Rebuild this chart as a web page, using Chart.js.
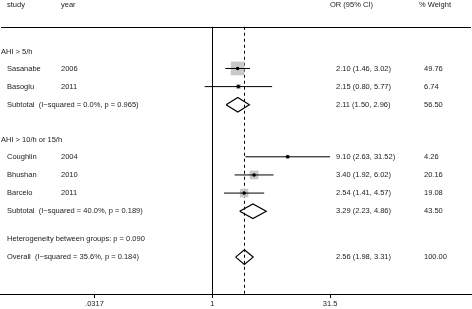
<!DOCTYPE html>
<html>
<head>
<meta charset="utf-8">
<script src="https://cdn.jsdelivr.net/npm/chart.js@4"></script>
<style>
  html, body { margin: 0; padding: 0; background: #fff; }
  #wrap { width: 472px; height: 309px; position: relative; }
</style>
</head>
<body>
<div id="wrap"><canvas id="forest"></canvas></div>
<script>
// Study rows (row positions, 1 row ~ one line of text)
const studies = ["Sasanabe", "Basoglu", "Coughlin", "Bhushan", "Barcelo"];
const years = ["2006", "2011", "2004", "2010", "2011"];
const studyRows = [1, 2, 5.87, 6.87, 7.87];
const orEst = [2.10, 2.15, 9.10, 3.40, 2.54];
const orLow = [1.46, 0.80, 2.63, 1.92, 1.41];
const orHigh = [3.02, 5.77, 31.52, 6.02, 4.57];
const weights = [49.76, 6.74, 4.26, 20.16, 19.08];

// Pooled rows (subtotals + overall) drawn as diamonds
const pooledLabels = [
    "Subtotal  (I\u2212squared = 0.0%, p = 0.965)",
    "Subtotal  (I\u2212squared = 40.0%, p = 0.189)",
    "Overall  (I\u2212squared = 35.6%, p = 0.184)",
];
const pooledRows = [3, 8.87, 11.4];
const pooledEst = [2.11, 3.29, 2.56];
const pooledLow = [1.50, 2.23, 1.98];
const pooledHigh = [2.96, 4.86, 3.31];
const pooledWeights = ["56.50", "43.50", "100.00"];

// Group headings and notes
const groupLabels = ["AHI > 5/h", "AHI > 10/h or 15/h", "Heterogeneity between groups: p = 0.090"];
const groupRows = [0.1, 4.95, 10.4];
const headerRow = -2.5;
const topRuleRow = -1.3;

// x axis ticks
const tickValues = [0.0317, 1, 31.5];
const tickLabels = [".0317", "1", "31.5"];

const FONT = "7.5px 'Liberation Sans', Arial, sans-serif";
const fmt = (v) => v.toFixed(2);

// Build datasets from the arrays
const dotData = studies.map((s, i) => ({ x: orEst[i], y: studyRows[i] }));
const squareRadius = weights.map((w) => 1.37 * Math.sqrt(w));
const ciData = [];
studies.forEach((s, i) => {
    ciData.push({ x: orLow[i], y: studyRows[i] });
    ciData.push({ x: orHigh[i], y: studyRows[i] });
    ciData.push({ x: 1, y: null });
});
const DH = 0.4; // half height of diamond in rows
const diamondData = [];
pooledRows.forEach((r, i) => {
    diamondData.push({ x: pooledLow[i], y: r });
    diamondData.push({ x: pooledEst[i], y: r - DH });
    diamondData.push({ x: pooledHigh[i], y: r });
    diamondData.push({ x: pooledEst[i], y: r + DH });
    diamondData.push({ x: pooledLow[i], y: r });
    diamondData.push({ x: 1, y: null });
});

// Lines and text that sit outside the datasets
const forestDecor = {
    id: "forestDecor",
    beforeDatasetsDraw(chart) {
        const { ctx, scales: { x, y }, chartArea } = chart;
        const yTop = y.getPixelForValue(topRuleRow);
        ctx.save();
        ctx.strokeStyle = "#000";
        ctx.lineWidth = 1;
        // top rule
        ctx.beginPath();
        ctx.moveTo(1, Math.round(yTop) + 0.5);
        ctx.lineTo(471, Math.round(yTop) + 0.5);
        ctx.stroke();
        // null line at OR = 1
        const x1 = Math.round(x.getPixelForValue(1)) + 0.5;
        ctx.beginPath();
        ctx.moveTo(x1, yTop);
        ctx.lineTo(x1, chartArea.bottom);
        ctx.stroke();
        // dashed overall line
        const xo = Math.round(x.getPixelForValue(pooledEst[2])) + 0.5;
        ctx.setLineDash([3, 3]);
        ctx.beginPath();
        ctx.moveTo(xo, yTop);
        ctx.lineTo(xo, chartArea.bottom);
        ctx.stroke();
        ctx.restore();
    },
    afterDatasetsDraw(chart) {
        const { ctx, scales: { y } } = chart;
        ctx.save();
        ctx.font = FONT;
        ctx.fillStyle = "#222";
        ctx.textBaseline = "middle";
        const put = (t, px, row) => ctx.fillText(t, px, y.getPixelForValue(row));
        put("study", 7, headerRow);
        put("year", 61, headerRow);
        put("OR (95% CI)", 330, headerRow);
        put("% Weight", 419, headerRow);
        groupLabels.forEach((g, i) => put(g, i === 2 ? 7 : 1, groupRows[i]));
        studies.forEach((s, i) => {
            put(s, 7, studyRows[i]);
            put(years[i], 61, studyRows[i]);
            put(fmt(orEst[i]) + " (" + fmt(orLow[i]) + ", " + fmt(orHigh[i]) + ")", 336, studyRows[i]);
            put(fmt(weights[i]), 424, studyRows[i]);
        });
        pooledLabels.forEach((p, i) => {
            put(p, 7, pooledRows[i]);
            put(fmt(pooledEst[i]) + " (" + fmt(pooledLow[i]) + ", " + fmt(pooledHigh[i]) + ")", 336, pooledRows[i]);
            put(pooledWeights[i], 424, pooledRows[i]);
        });
        ctx.restore();
    },
};

new Chart(document.getElementById("forest"), {
    type: "scatter",
    data: {
        datasets: [
            {
                label: "point",
                data: dotData,
                pointStyle: "circle",
                pointRadius: 1.8,
                backgroundColor: "#000",
                borderWidth: 0,
            },
            {
                type: "line",
                label: "ci",
                data: ciData,
                borderColor: "#000",
                borderWidth: 1,
                pointRadius: 0,
                spanGaps: false,
            },
            {
                label: "weight",
                data: dotData,
                pointStyle: "rect",
                pointRadius: squareRadius,
                backgroundColor: "#c8c8c8",
                borderWidth: 0,
            },
            {
                type: "line",
                label: "pooled",
                data: diamondData,
                borderColor: "#000",
                borderWidth: 1.2,
                pointRadius: 0,
                spanGaps: false,
                fill: false,
            },
        ],
    },
    options: {
        responsive: true,
        maintainAspectRatio: false,
        animation: false,
        layout: { padding: 0, autoPadding: false },
        plugins: {
            legend: { display: false },
            tooltip: { enabled: false },
        },
        scales: {
            x: {
                type: "logarithmic",
                min: Math.pow(10, -2.701),
                max: Math.pow(10, 3.304),
                afterBuildTicks: (scale) => {
                    scale.ticks = tickValues.map((v) => ({ value: v }));
                },
                grid: {
                    display: true,
                    drawOnChartArea: false,
                    drawTicks: true,
                    tickLength: 4,
                    color: "#000",
                },
                border: { display: true, color: "#000", width: 1 },
                ticks: {
                    autoSkip: false,
                    maxRotation: 0,
                    padding: 1,
                    color: "#222",
                    font: { family: "'Liberation Sans', Arial, sans-serif", size: 7.5 },
                    callback: (v, i) => tickLabels[i],
                },
            },
            y: {
                type: "linear",
                display: false,
                reverse: true,
                min: -2.775,
                max: 13.434,
            },
        },
    },
    plugins: [forestDecor],
});
</script>
</body>
</html>
